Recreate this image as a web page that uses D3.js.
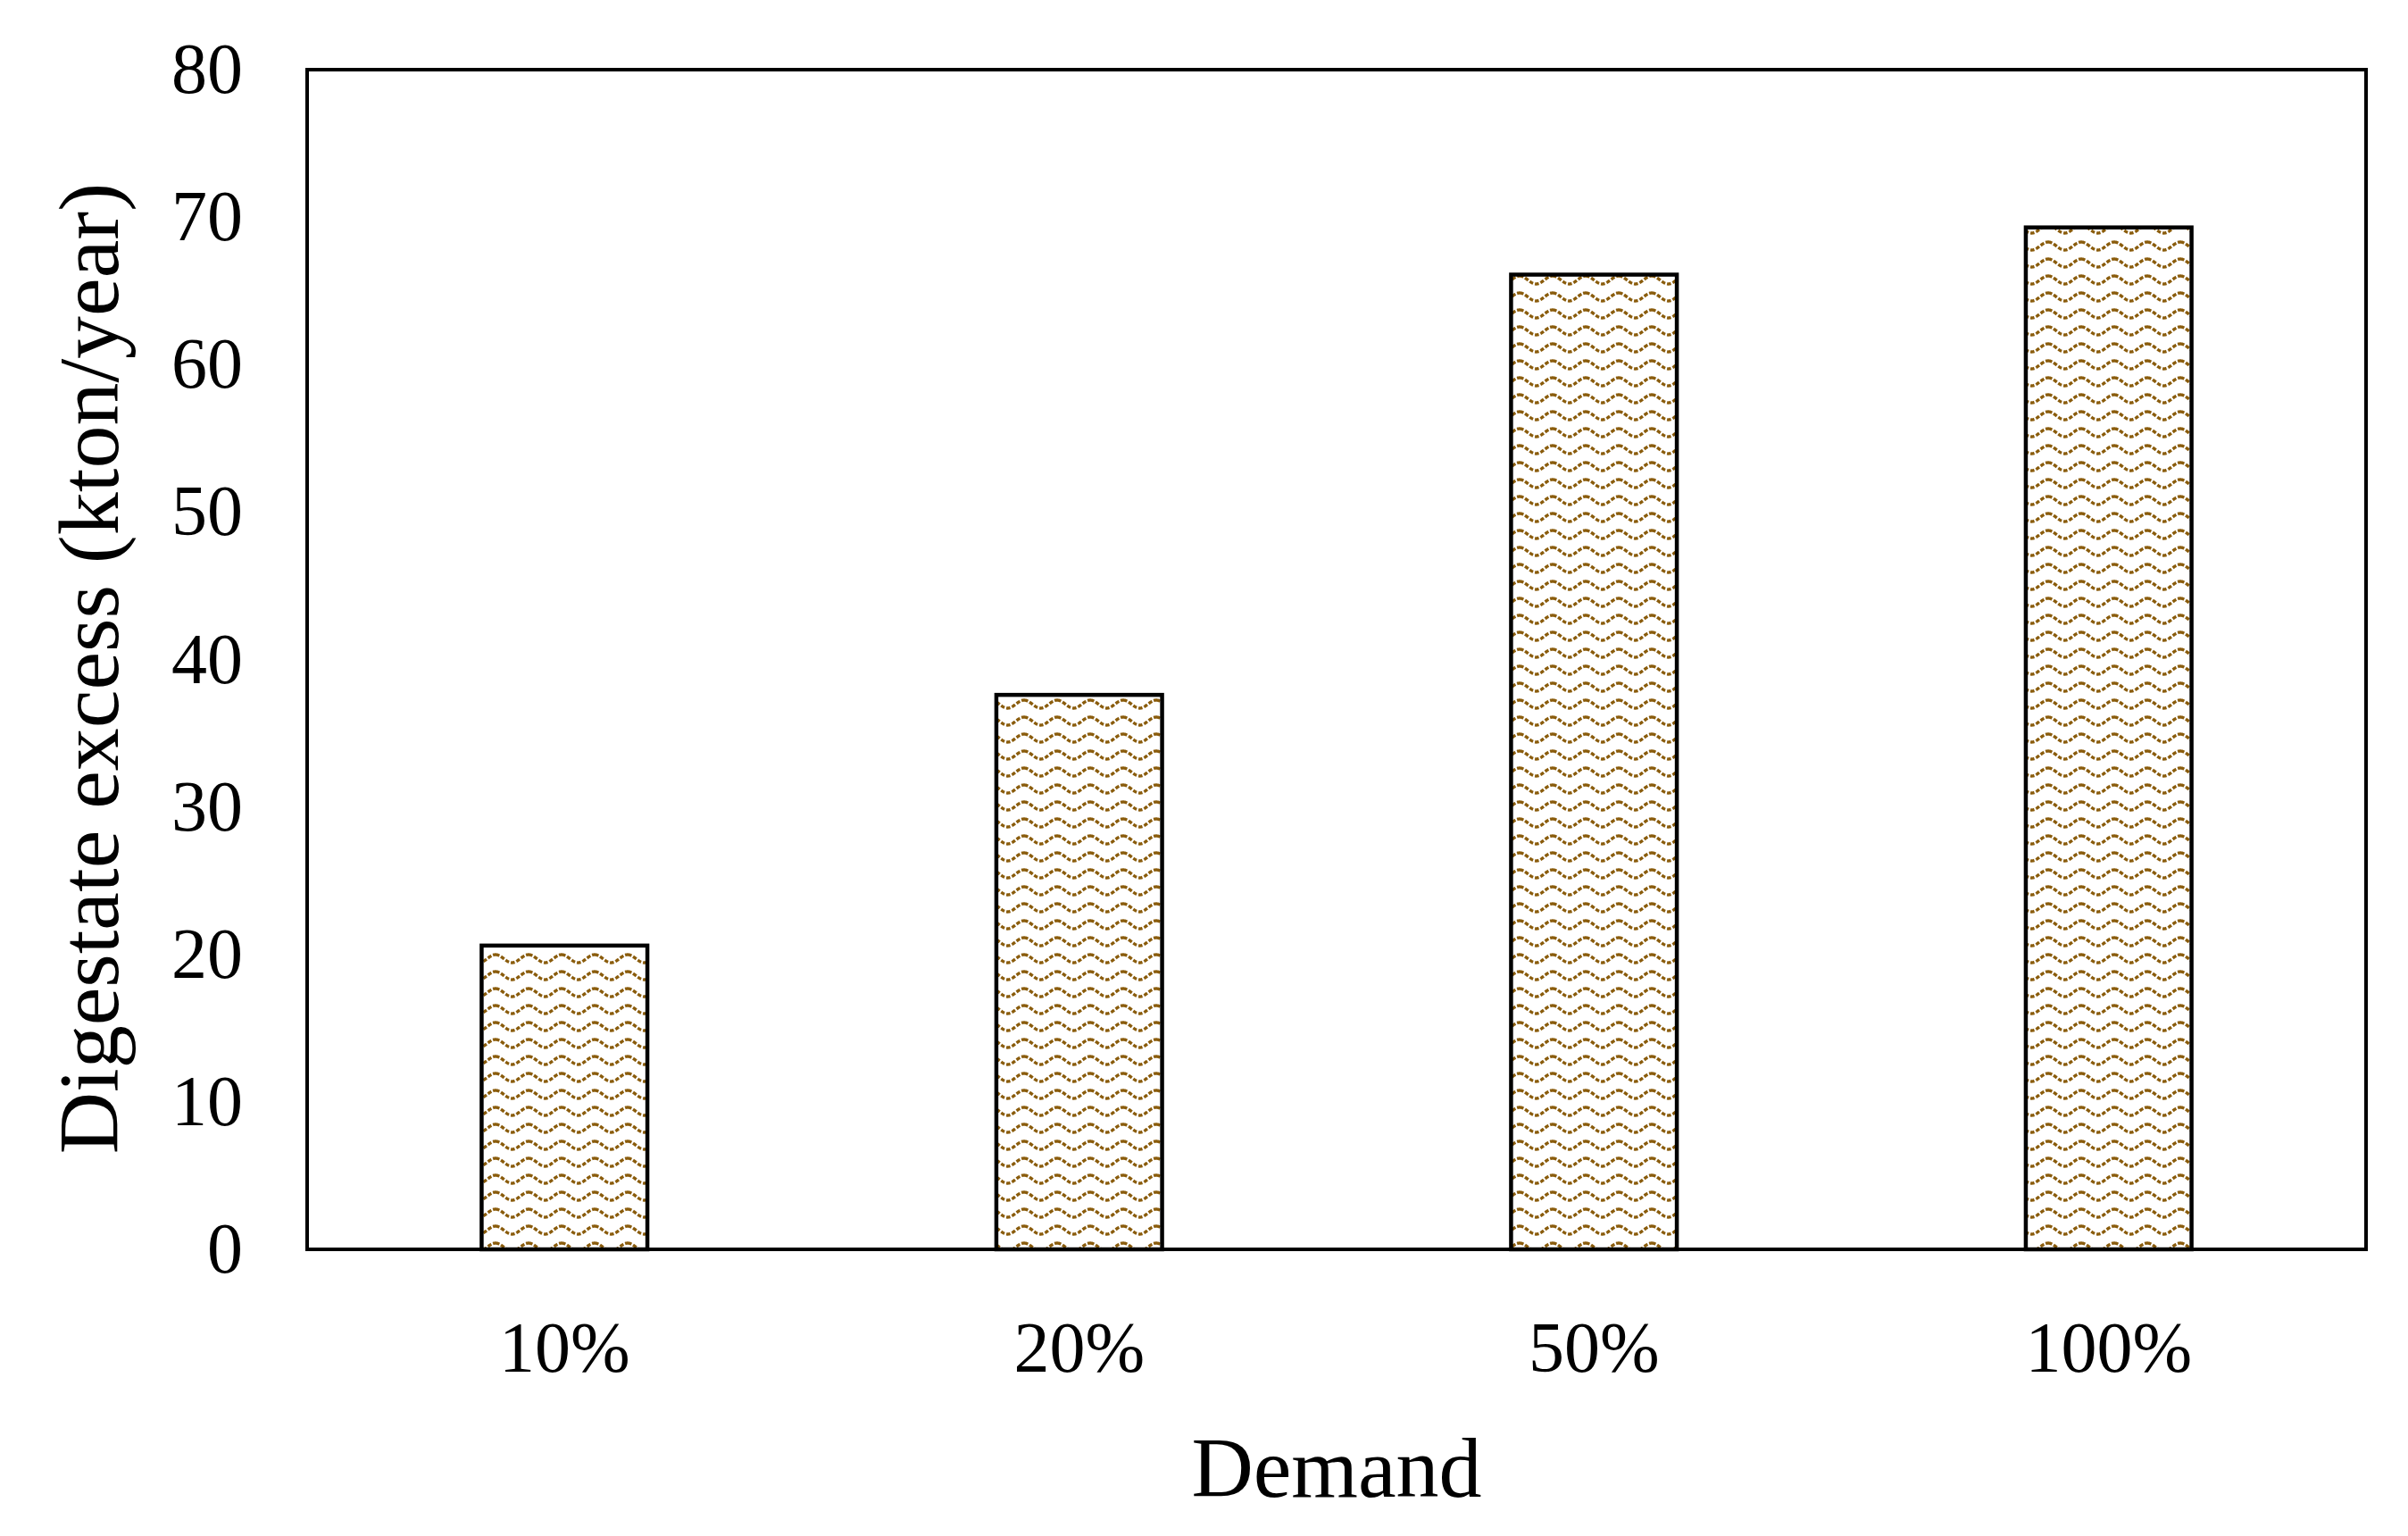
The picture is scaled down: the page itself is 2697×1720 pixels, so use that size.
<!DOCTYPE html>
<html><head><meta charset="utf-8">
<script src="https://cdn.jsdelivr.net/npm/d3@7"></script>
<style>body{margin:0;background:#fff}</style></head>
<body><svg id="c" width="2697" height="1720"></svg>
<script>
const categories = ["10%", "20%", "50%", "100%"];
const values = [20.6, 37.6, 66.1, 69.3];
const yTicks = [0, 10, 20, 30, 40, 50, 60, 70, 80];

const m = {left: 344, right: 2650, top: 78, bottom: 1399};
const svg = d3.select("#c");
const font = "'Liberation Serif', 'Times New Roman', serif";

const defs = svg.append("defs");
const pat = defs.append("pattern").attr("id", "wave").attr("patternUnits", "userSpaceOnUse")
  .attr("width", 37).attr("height", 19);
pat.append("rect").attr("width", 37).attr("height", 19).attr("fill", "#fff");
pat.append("path").attr("d", d3.line()(d3.range(0, 37.5, 0.5).map(x => [x, 9.5 - 4.5*Math.cos(2*Math.PI*x/37)])))
  .attr("fill", "none").attr("stroke", "#8a5c0c").attr("stroke-width", 3.4).attr("stroke-dasharray", "4.5,2");

const x = d3.scaleBand().domain(categories).range([m.left, m.right]).paddingInner(0.678).paddingOuter(0.339);
const y = d3.scaleLinear().domain([0, 80]).range([m.bottom, m.top]);

svg.selectAll("rect.bar").data(values).join("rect").attr("class", "bar")
  .attr("x", (d, i) => x(categories[i])).attr("width", x.bandwidth())
  .attr("y", d => y(d)).attr("height", d => y(0) - y(d))
  .attr("fill", "url(#wave)").attr("stroke", "#000").attr("stroke-width", 4.5);

svg.append("rect").attr("x", m.left).attr("y", m.top).attr("width", m.right - m.left).attr("height", m.bottom - m.top)
  .attr("fill", "none").attr("stroke", "#000").attr("stroke-width", 4);

const ya = svg.append("g").attr("transform", `translate(${m.left},0)`)
  .call(d3.axisLeft(y).tickValues(yTicks).tickSize(0).tickPadding(72));
ya.select(".domain").remove();
ya.selectAll("text").attr("font-family", font).attr("font-size", 80).attr("fill", "#000");

const xa = svg.append("g").attr("transform", `translate(0,${m.bottom})`)
  .call(d3.axisBottom(x).tickSize(0).tickPadding(80));
xa.select(".domain").remove();
xa.selectAll("text").attr("font-family", font).attr("font-size", 80).attr("fill", "#000");

svg.append("text").attr("x", (m.left + m.right) / 2).attr("y", 1676).attr("text-anchor", "middle")
  .attr("font-family", font).attr("font-size", 96).text("Demand");
svg.append("text").attr("transform", `translate(132,${(m.top + m.bottom) / 2 + 10}) rotate(-90)`).attr("text-anchor", "middle")
  .attr("font-family", font).attr("font-size", 96).text("Digestate excess (kton/year)");
</script></body></html>
